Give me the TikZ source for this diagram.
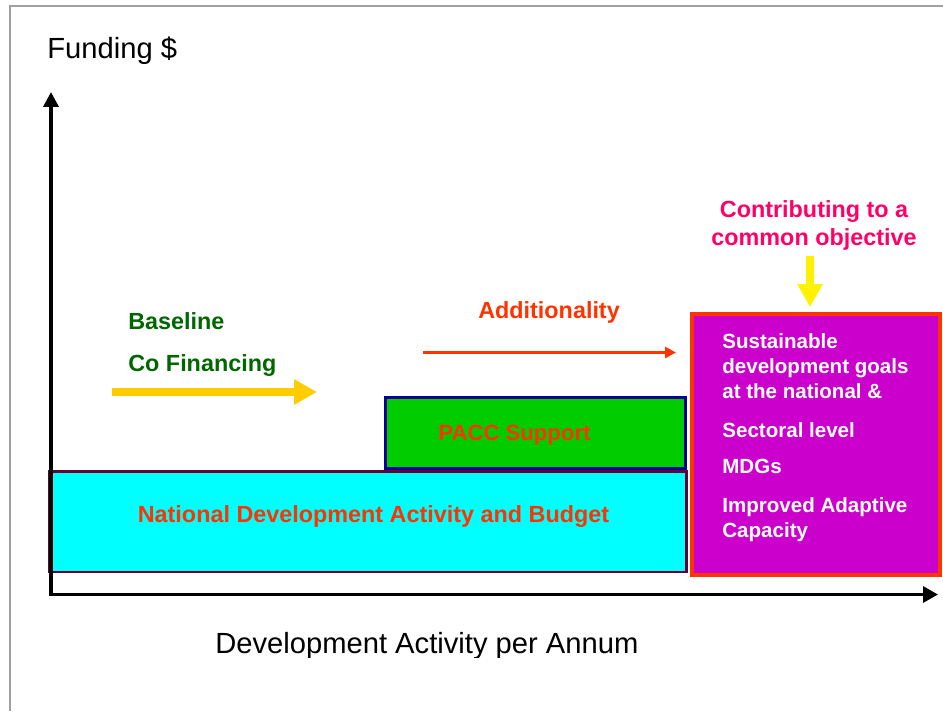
\documentclass[tikz,border=0pt]{standalone}
\usepackage{fontspec}
\setmainfont{Liberation Sans}
\usetikzlibrary{arrows.meta}

\definecolor{budgetcyan}{HTML}{00FFFF}
\definecolor{budgetedge}{HTML}{660033}
\definecolor{paccgreen}{HTML}{00CC00}
\definecolor{paccedge}{HTML}{000099}
\definecolor{goalmagenta}{HTML}{CC00CC}
\definecolor{orangered}{HTML}{FF3300}
\definecolor{basegreen}{HTML}{006600}
\definecolor{pinkred}{HTML}{FF0066}
\definecolor{goldyellow}{HTML}{FFCC00}
\definecolor{pageframe}{HTML}{A0A0A0}

\tikzset{
  box/.style={rectangle, inner sep=0pt},
  bigtext/.style={inner sep=0pt, font=\fontsize{16.6}{20}\selectfont},
  boldtext/.style={inner sep=0pt, font=\fontsize{13.3}{16}\selectfont\bfseries},
  goaltext/.style={inner sep=0pt, anchor=base west, text=white,
    font=\fontsize{11.7}{14}\selectfont\bfseries},
}

\begin{document}
\begin{tikzpicture}[x=0.02cm, y=-0.02cm]

    \useasboundingbox (0,0) rectangle (943,711);
    \draw[pageframe, line width=0.6pt] (10,711) -- (10,6) -- (943,6);

    % boxes
    \node[box, draw=budgetedge, fill=budgetcyan, line width=1.7pt,
      minimum width=12.74cm, minimum height=2.01cm] (budget) at (368,521.75) {};
    \node[box, draw=paccedge, fill=paccgreen, line width=1.7pt,
      minimum width=6cm, minimum height=1.42cm] (pacc) at (535.5,433) {};
    \node[box, draw=orangered, fill=goalmagenta, line width=2.3pt,
      minimum width=4.96cm, minimum height=5.22cm] (goals) at (816,444.5) {};

    \node[boldtext, anchor=base, text=orangered] (budgettext) at (373.5,522)
      {National Development Activity and Budget};
    \node[boldtext, anchor=base, text=orangered, font=\fontsize{12.6}{15}\selectfont\bfseries]
      (pacctext) at (514.5,440) {PACC Support};

    \node[goaltext] (goal1) at (722,348) {Sustainable};
    \node[goaltext] (goal2) at (722,373) {development goals};
    \node[goaltext] (goal3) at (722,398) {at the national \&};
    \node[goaltext] (goal4) at (722,437) {Sectoral level};
    \node[goaltext] (goal5) at (722,473) {MDGs};
    \node[goaltext] (goal6) at (722,512) {Improved Adaptive};
    \node[goaltext] (goal7) at (722,537) {Capacity};

    % labels and arrows
    \node[bigtext, anchor=base west] (funding) at (47,58) {Funding \$};
    \node[boldtext, anchor=base west, text=basegreen] (baseline) at (128,329) {Baseline};
    \node[boldtext, anchor=base west, text=basegreen] (cofin) at (128,371) {Co Financing};
    \node[boldtext, anchor=base, text=orangered] (addit) at (549,318) {Additionality};
    \node[boldtext, anchor=base, text=pinkred] (contrib1) at (814,217) {Contributing to a};
    \node[boldtext, anchor=base, text=pinkred] (contrib2) at (814,245) {common objective};

    \coordinate (cofinstart) at (112,392);
    \coordinate (cofinend) at (317,392);
    \draw[goldyellow, line width=4.5pt, -{Triangle[length=13pt, width=13.6pt]}]
      (cofinstart) -- (cofinend);

    \coordinate (additstart) at (423,352.5);
    \coordinate (additend) at (676,352.5);
    \draw[orangered, line width=1.9pt, -{Triangle[length=6.2pt, width=6.2pt]}]
      (additstart) -- (additend);

    \coordinate (contribstart) at (810,256);
    \coordinate (contribend) at (810,307);
    \draw[yellow, line width=4.5pt, -{Triangle[length=13pt, width=13.6pt]}]
      (contribstart) -- (contribend);

    % axes
    \coordinate (origin) at (51,594.5);
    \coordinate (ytop) at (51,92);
    \coordinate (xend) at (938,594.5);
    \draw[line width=2pt, {Triangle[length=8.5pt, width=8.5pt]}-{Triangle[length=8.5pt, width=9pt]}]
      (ytop) -- (origin) -- (xend);

    \begin{scope}
      \clip (0,0) rectangle (943,657);
      \node[bigtext, anchor=base west] (xlabel) at (215,653) {Development Activity per Annum};
    \end{scope}

\end{tikzpicture}
\end{document}
